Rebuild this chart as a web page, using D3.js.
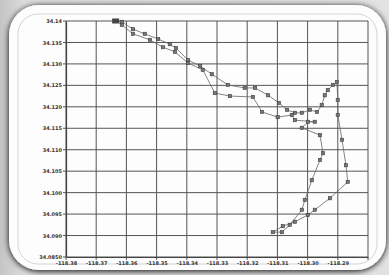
<!DOCTYPE html>
<html>
<head>
<meta charset="utf-8">
<script src="https://cdn.jsdelivr.net/npm/d3@7"></script>
<style>
  body { margin: 0; background: #d6d6d6; }
  svg { display: block; }
</style>
</head>
<body>
<div id="chart"></div>
<script>
// Setting up sizes
const width = 389;
const height = 275;

const margin = { top: 21, right: 21, bottom: 18, left: 66 };

// Track (longitude / latitude)
const lon = [
  -118.3634, -118.3615, -118.3578, -118.3539, -118.3495, -118.3456, -118.3436, -118.3396,
  -118.3356, -118.3317, -118.3264, -118.3208, -118.3174, -118.3131, -118.3095, -118.3068,
  -118.3042, -118.3019, -118.2992, -118.2969, -118.2953, -118.2943, -118.2933, -118.2916,
  -118.2903, -118.2900, -118.2900, -118.2886, -118.2873, -118.2867, -118.2926, -118.2976,
  -118.2999, -118.3042, -118.3082, -118.3115,
  -118.3085, -118.3059, -118.3019, -118.3009, -118.2986, -118.2959, -118.2949, -118.2959,
  -118.3019, -118.2999, -118.2976, -118.3042, -118.3052, -118.3099, -118.3151, -118.3181,
  -118.3257, -118.3307, -118.3347, -118.3396, -118.3439, -118.3479, -118.3522, -118.3578,
  -118.3615, -118.3634
];
const lat = [
  34.1400, 34.1398, 34.1381, 34.1370, 34.1358, 34.1346, 34.1337, 34.1309,
  34.1295, 34.1276, 34.1251, 34.1244, 34.1244, 34.1227, 34.1209, 34.1193,
  34.1186, 34.1186, 34.1193, 34.1188, 34.1204, 34.1227, 34.1239, 34.1251,
  34.1258, 34.1216, 34.1181, 34.1123, 34.1064, 34.1025, 34.0987, 34.0960,
  34.0948, 34.0932, 34.0922, 34.0908,
  34.0908, 34.0925, 34.0960, 34.0983, 34.1029, 34.1076, 34.1092, 34.1134,
  34.1151, 34.1165, 34.1165, 34.1169, 34.1181, 34.1176, 34.1188, 34.1223,
  34.1225, 34.1232, 34.1286, 34.1302, 34.1328, 34.1339, 34.1356, 34.1370,
  34.1391, 34.1400
];

// Tick values
const xTicks = d3.range(11).map(i => -118.38 + i * 0.01);
const xTickLabels = ["-118.38", "-118.37", "-118.36", "-118.35", "-118.34",
                     "-118.33", "-118.32", "-118.31", "-118.30", "-118.29", ""];
const yTicks = d3.range(12).map(i => 34.085 + i * 0.005);
const yTickLabels = ["34.0850", "34.090", "34.095", "34.100", "34.105", "34.110",
                     "34.115", "34.120", "34.125", "34.130", "34.135", "34.14"];

const points = lon.map((d, i) => ({ lon: d, lat: lat[i] }));

const svg = d3.select("#chart")
  .append("svg")
  .attr("width", width)
  .attr("height", height);

// Background and card
const defs = svg.append("defs");
const bg = defs.append("linearGradient").attr("id", "bg")
  .attr("x1", 0).attr("y1", 0).attr("x2", 1).attr("y2", 0);
bg.append("stop").attr("offset", "0%").attr("stop-color", "#c4c4c4");
bg.append("stop").attr("offset", "6%").attr("stop-color", "#dcdcdc");
bg.append("stop").attr("offset", "100%").attr("stop-color", "#e2e2e2");

const shadow = defs.append("filter").attr("id", "shadow")
  .attr("x", "-10%").attr("y", "-10%").attr("width", "120%").attr("height", "120%");
shadow.append("feGaussianBlur").attr("in", "SourceAlpha").attr("stdDeviation", 3);
shadow.append("feOffset").attr("dx", 0).attr("dy", 1).attr("result", "b");
const merge = shadow.append("feMerge");
merge.append("feMergeNode").attr("in", "b");
merge.append("feMergeNode").attr("in", "SourceGraphic");

svg.append("rect")
  .attr("width", width).attr("height", height)
  .attr("fill", "url(#bg)");

svg.append("rect")
  .attr("x", 9).attr("y", 5)
  .attr("width", 377).attr("height", 265)
  .attr("rx", 30)
  .attr("fill", "#fdfdfd")
  .style("filter", "url(#shadow)");

svg.append("rect")
  .attr("x", 18).attr("y", 14)
  .attr("width", 359).attr("height", 250)
  .attr("rx", 20)
  .attr("fill", "none")
  .attr("stroke", "#d4d4d4")
  .attr("stroke-width", 1);

// Scales
const x = d3.scaleLinear()
  .domain([-118.38, -118.28])
  .range([margin.left, width - margin.right]);

const y = d3.scaleLinear()
  .domain([34.085, 34.14])
  .range([height - margin.bottom, margin.top]);

// Grid
svg.append("g")
  .selectAll("line")
  .data(xTicks)
  .join("line")
  .attr("x1", d => x(d)).attr("x2", d => x(d))
  .attr("y1", y(34.14)).attr("y2", y(34.085) + 3)
  .attr("stroke", "#555")
  .attr("stroke-width", 1);

svg.append("g")
  .selectAll("line")
  .data(yTicks)
  .join("line")
  .attr("x1", x(-118.38) - 3).attr("x2", x(-118.28))
  .attr("y1", d => y(d)).attr("y2", d => y(d))
  .attr("stroke", "#555")
  .attr("stroke-width", 1);

// Axes (labels only, grid drawn above)
const xAxis = svg.append("g")
  .attr("transform", `translate(0,${height - margin.bottom})`)
  .call(d3.axisBottom(x).tickValues(xTicks).tickSize(0).tickPadding(4)
    .tickFormat((d, i) => xTickLabels[i]));

const yAxis = svg.append("g")
  .attr("transform", `translate(${margin.left},0)`)
  .call(d3.axisLeft(y).tickValues(yTicks).tickSize(0).tickPadding(4)
    .tickFormat((d, i) => yTickLabels[i]));

[xAxis, yAxis].forEach(a => {
  a.select(".domain").attr("stroke", "#444").attr("stroke-width", 1.2);
  a.selectAll("text")
    .attr("font-family", "DejaVu Sans, sans-serif")
    .attr("font-size", 5)
    .attr("font-weight", "bold")
    .attr("fill", "#333");
});

// Track
const line = d3.line()
  .x(d => x(d.lon))
  .y(d => y(d.lat));

svg.append("path")
  .datum(points)
  .attr("d", line)
  .attr("fill", "none")
  .attr("stroke", "#666")
  .attr("stroke-width", 0.8);

// Points
svg.selectAll(".dot")
  .data(points)
  .join("rect")
  .attr("class", "dot")
  .attr("x", d => x(d.lon) - 1.7)
  .attr("y", d => y(d.lat) - 1.7)
  .attr("width", 3.4)
  .attr("height", 3.4)
  .attr("fill", "#777")
  .attr("stroke", "#333")
  .attr("stroke-width", 0.5);

// Start marker
svg.append("rect")
  .attr("x", x(lon[0]) - 4)
  .attr("y", y(lat[0]) - 2.5)
  .attr("width", 7)
  .attr("height", 5)
  .attr("fill", "#444");
</script>
</body>
</html>
